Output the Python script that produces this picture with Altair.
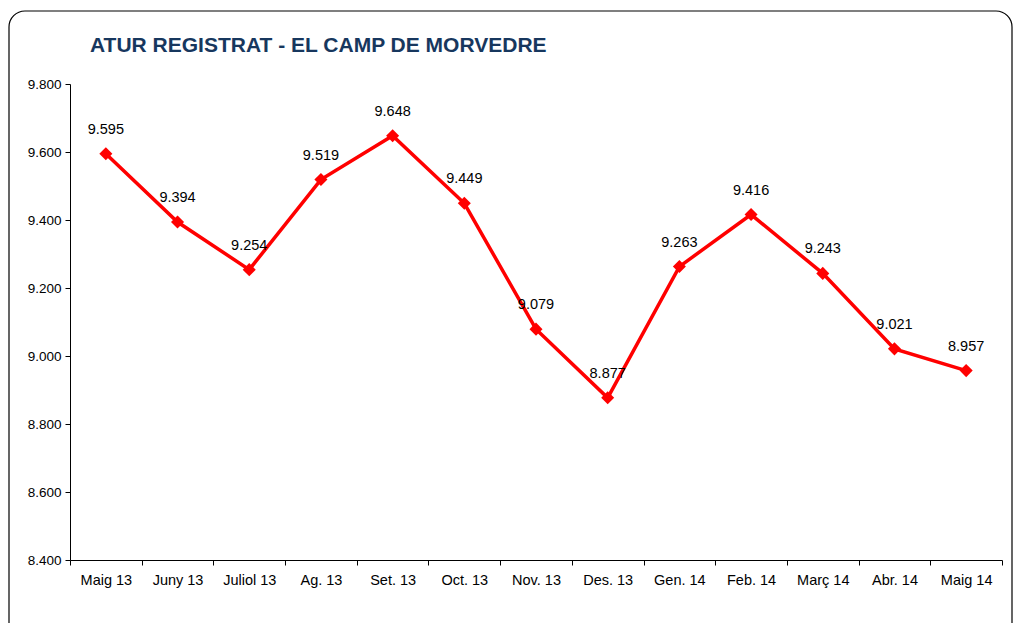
import altair as alt
import pandas as pd

months = ["Maig 13", "Juny 13", "Juliol 13", "Ag. 13", "Set. 13", "Oct. 13", "Nov. 13",
          "Des. 13", "Gen. 14", "Feb. 14", "Març 14", "Abr. 14", "Maig 14"]
values = [9595, 9394, 9254, 9519, 9648, 9449, 9079, 8877, 9263, 9416, 9243, 9021, 8957]
y_ticks = [8400, 8600, 8800, 9000, 9200, 9400, 9600, 9800]
title_text = "ATUR REGISTRAT - EL CAMP DE MORVEDRE"

df = pd.DataFrame({"mes": months, "atur": values})

FONT = "Liberation Sans"
W, H = 932, 476

xenc = alt.X("mes:N", sort=months, bandPosition=0.5,
             scale=alt.Scale(type="band", paddingInner=0, paddingOuter=0),
             axis=alt.Axis(title=None, tickBand="extent", labelAngle=0, labelFont=FONT,
                           labelFontSize=14.5, labelColor="black", labelPadding=8,
                           domainColor="black", tickColor="black", tickSize=5, grid=False))
yenc = alt.Y("atur:Q", scale=alt.Scale(domain=[8400, 9800], nice=False, zero=False),
             axis=alt.Axis(title=None, values=y_ticks, labelFont=FONT, labelFontSize=13.5,
                           labelColor="black", labelPadding=4, tickSize=5,
                           domainColor="black", tickColor="black", grid=False,
                           labelExpr="replace(format(datum.value, ','), ',', '.')"))

base = alt.Chart(df)
line = base.mark_line(color="#FF0000", strokeWidth=3.5).encode(x=xenc, y=yenc)
pts = base.mark_point(shape="diamond", filled=True, color="#FF0000", size=170, opacity=1).encode(x=xenc, y=yenc)
labels = base.transform_calculate(
    lab="replace(format(datum.atur, ','), ',', '.')"
).mark_text(font=FONT, fontSize=14.5, color="black", dy=-24, baseline="middle").encode(
    x=xenc, y=yenc, text="lab:N")

one = alt.Chart(pd.DataFrame({"t": [title_text]}))
border = one.mark_rect(
    fill=None, stroke="black", strokeWidth=1.2, cornerRadius=16, clip=False
).encode(x=alt.value(-61), x2=alt.value(W + 10), y=alt.value(-73), y2=alt.value(H + 90))
title = one.mark_text(font=FONT, fontSize=21, fontWeight="bold", color="#17375E",
                      align="left", baseline="alphabetic").encode(
    x=alt.value(20), y=alt.value(-32), text="t:N")

chart = alt.layer(border, title, line, pts, labels).properties(
    width=W, height=H,
    padding={"left": 62, "top": 76, "right": 11, "bottom": 63},
    autosize=alt.AutoSizeParams(type="none"),
    background="white",
    view=alt.ViewBackground(strokeWidth=0, strokeOpacity=0),
).configure_view(stroke="transparent", strokeWidth=0, strokeOpacity=0)

chart.save("out.html", embed_options={"renderer": "svg", "actions": False})
